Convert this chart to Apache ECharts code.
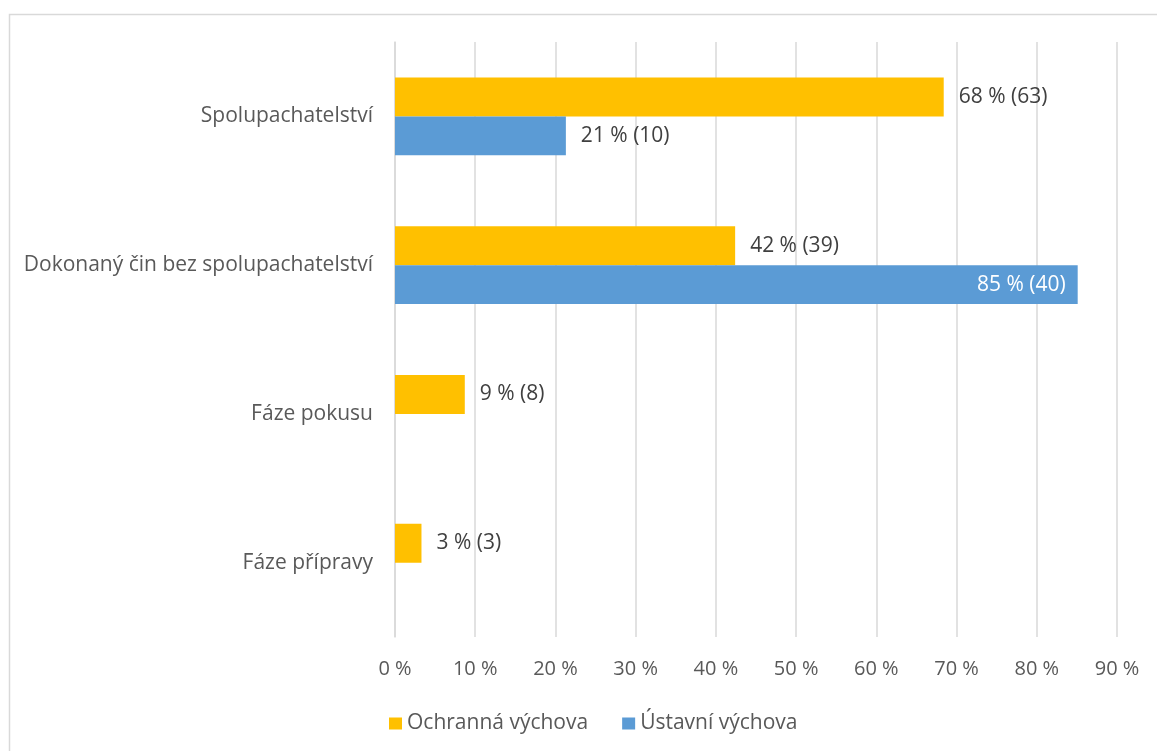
<!DOCTYPE html>
<html>
<head>
<meta charset="utf-8">
<script src="https://cdn.jsdelivr.net/npm/echarts@6/dist/echarts.min.js"></script>
<style>
html,body{margin:0;padding:0;background:#fff;}
#c{width:1157px;height:751px;}
</style>
</head>
<body>
<div id="c"></div>
<script>
const categories = ['Spolupachatelství', 'Dokonaný čin bez spolupachatelství', 'Fáze pokusu', 'Fáze přípravy'];
const seriesNames = ['Ochranná výchova', 'Ústavní výchova'];
const ochrannaPct = [68.4, 42.4, 8.7, 3.3];
const ochrannaCount = [63, 39, 8, 3];
const ustavniPct = [21.3, 85.1, null, null];
const ustavniCount = [10, 40, null, null];
const xTicks = [0, 10, 20, 30, 40, 50, 60, 70, 80, 90];

const FONT = 'Open Sans';
const TXT = '#595959';

function makeData(pcts, counts) {
  return pcts.map((v, i) => {
    if (v == null) return null;
    const item = { value: v, count: counts[i] };
    if (v > 80) {
      item.label = { position: 'insideRight', color: '#ffffff', distance: 12 };
    }
    return item;
  });
}

const chart = echarts.init(document.getElementById('c'));
chart.setOption({
  animation: false,
  textStyle: { fontFamily: FONT },
  graphic: [{
    type: 'rect', left: 7, top: 12,
    shape: { width: 1200, height: 800 },
    style: { fill: 'none', stroke: '#d9d9d9', lineWidth: 1.5 },
    silent: true
  }],
  grid: { left: 395, right: 40, top: 42, bottom: 114 },
  legend: {
    data: seriesNames,
    left: 384, top: 708,
    itemWidth: 13, itemHeight: 12, itemGap: 34,
    icon: 'rect',
    textStyle: { fontFamily: FONT, fontSize: 21, color: TXT }
  },
  xAxis: {
    type: 'value', min: xTicks[0], max: xTicks[xTicks.length - 1], interval: 10,
    axisLine: { show: false }, axisTick: { show: false },
    splitLine: { lineStyle: { color: '#d9d9d9', width: 1.5 } },
    axisLabel: { fontFamily: FONT, fontSize: 20, color: TXT, margin: 22, formatter: v => v + ' %' }
  },
  yAxis: {
    type: 'category', data: categories, inverse: true,
    axisLine: { show: true, lineStyle: { color: '#d9d9d9', width: 1.5 } },
    axisTick: { show: false },
    axisLabel: { fontFamily: FONT, fontSize: 21, color: TXT, margin: 22, padding: [6, 0, 0, 0] }
  },
  series: [
    {
      name: seriesNames[0], type: 'bar',
      data: makeData(ochrannaPct, ochrannaCount),
      itemStyle: { color: '#FFC000' },
      barGap: '0%', barCategoryGap: '47.6%',
      label: {
        show: true, position: 'right', distance: 15,
        fontFamily: FONT, fontSize: 21, color: '#404040',
        formatter: p => Math.round(p.value) + ' % (' + p.data.count + ')'
      }
    },
    {
      name: seriesNames[1], type: 'bar',
      data: makeData(ustavniPct, ustavniCount),
      itemStyle: { color: '#5B9BD5' },
      barGap: '0%', barCategoryGap: '47.6%',
      label: {
        show: true, position: 'right', distance: 15,
        fontFamily: FONT, fontSize: 21, color: '#404040',
        formatter: p => Math.round(p.value) + ' % (' + p.data.count + ')'
      }
    }
  ]
});
</script>
</body>
</html>
